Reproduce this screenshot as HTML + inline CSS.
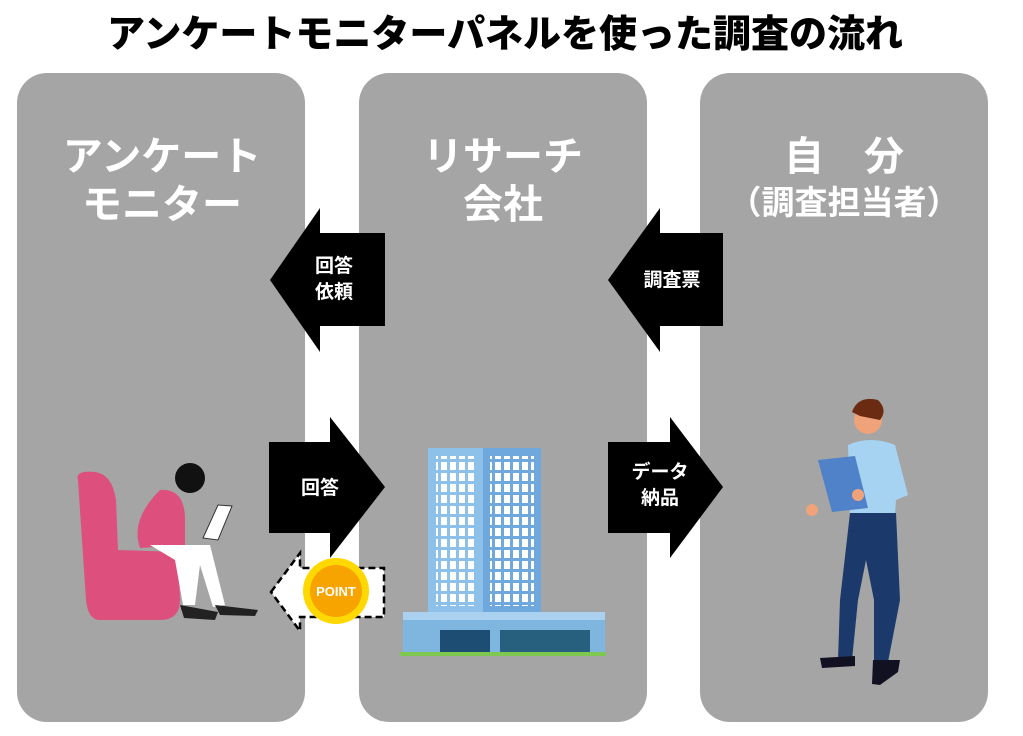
<!DOCTYPE html>
<html><head><meta charset="utf-8"><style>
body{margin:0;background:#fff;width:1023px;height:731px;overflow:hidden;font-family:"Liberation Sans","Noto Sans CJK JP",sans-serif}
</style></head><body>
<svg width="1023" height="731" viewBox="0 0 1023 731" xmlns="http://www.w3.org/2000/svg" font-family="'Liberation Sans','Noto Sans CJK JP',sans-serif">
<text x="505" y="47" text-anchor="middle" font-size="38" font-weight="900" fill="#000">アンケートモニターパネルを使った調査の流れ</text>
<rect x="17" y="73" width="288" height="649" rx="30" fill="#a5a5a5"/>
<rect x="359" y="73" width="288" height="649" rx="30" fill="#a5a5a5"/>
<rect x="700" y="73" width="288" height="649" rx="30" fill="#a5a5a5"/>
<g fill="#fff" font-weight="bold" font-size="40" text-anchor="middle">
<text x="162" y="170">アンケート</text><text x="162" y="218">モニター</text>
<text x="503" y="170">リサーチ</text><text x="503" y="218">会社</text>
<text x="844" y="170">自　分</text><text x="844" y="214" font-size="33">（調査担当者）</text>
</g>
<polygon points="270,280 320,208 320,233 385,233 385,326 320,326 320,352" fill="#000"/>
<polygon points="608,280 660,208 660,233 723,233 723,326 660,326 660,352" fill="#000"/>
<polygon points="269,442 330,442 330,417 385,487 330,558 330,533 269,533" fill="#000"/>
<polygon points="608,442 670,442 670,417 723,487 670,558 670,533 608,533" fill="#000"/>
<g fill="#fff" font-weight="bold" font-size="19" text-anchor="middle">
<text x="334" y="272">回答</text><text x="334" y="298">依頼</text>
<text x="320" y="494">回答</text>
<text x="672" y="286">調査票</text>
<text x="660" y="478">データ</text><text x="660" y="504">納品</text>
</g>
<polygon points="271,592 300,553 300,568 384,568 384,617 300,617 300,631" fill="#fff" stroke="#000" stroke-width="2.5" stroke-dasharray="7,4"/>
<circle cx="336" cy="591" r="33" fill="#ffd800"/>
<circle cx="336" cy="591" r="26" fill="#f7a400"/>
<text x="336" y="596" text-anchor="middle" fill="#fff" font-size="13" font-weight="bold">POINT</text>
<defs><pattern id="w" width="9" height="11" patternUnits="userSpaceOnUse"><rect width="6" height="8" fill="#fff"/></pattern></defs>
<rect x="428" y="448" width="113" height="172" fill="#6ea8dc"/>
<rect x="428" y="448" width="55" height="172" fill="#8ec1ea"/>
<rect x="436" y="456" width="40" height="150" fill="url(#w)"/>
<rect x="490" y="456" width="44" height="150" fill="url(#w)"/>
<rect x="403" y="612" width="202" height="40" fill="#7fb6e0"/>
<rect x="403" y="612" width="202" height="8" fill="#aad2f0"/>
<rect x="440" y="630" width="50" height="22" fill="#1d4d73"/>
<rect x="500" y="630" width="90" height="22" fill="#27607f"/>
<rect x="400" y="652" width="206" height="4" fill="#7ec850"/>
<path d="M78,480 Q75,470 95,472 Q112,474 116,500 L118,550 L178,552 L180,600 Q180,620 160,620 L100,620 Q88,620 86,600 Z" fill="#dd4f7c"/>
<circle cx="190" cy="478" r="15" fill="#111"/>
<path d="M160,490 Q185,488 185,520 L185,545 L140,548 Q130,520 160,490 Z" fill="#dd4f7c"/>
<path d="M150,545 L210,545 L225,605 L213,607 L200,565 L195,605 L183,605 L175,560 Z" fill="#fff"/>
<path d="M180,605 L218,612 L215,620 L184,618 Z M215,605 L258,610 L255,616 L220,615Z" fill="#222"/>
<polygon points="203,538 218,505 232,506 218,540" fill="#fff" stroke="#333"/>
<circle cx="868" cy="420" r="14" fill="#f0a27a"/>
<path d="M852,412 Q858,395 878,400 Q888,410 880,420 L860,416Z" fill="#6b2b13"/>
<path d="M848,445 Q870,435 895,445 L908,495 L896,500 L895,515 L850,515 Z" fill="#a7d3f2"/>
<path d="M850,513 L896,513 L900,600 L888,662 L874,662 L874,600 L866,560 L858,600 L852,660 L838,660 L840,600 Z" fill="#1b3a6b"/>
<path d="M820,658 L855,656 L855,666 L822,668Z M873,660 L900,660 L898,672 L880,685 L872,684Z" fill="#112"/>
<polygon points="818,460 855,456 868,508 832,512" fill="#4f82c8"/>
<circle cx="812" cy="510" r="6" fill="#f0a27a"/>
<circle cx="858" cy="495" r="6" fill="#f0a27a"/>
</svg>
</body></html>
